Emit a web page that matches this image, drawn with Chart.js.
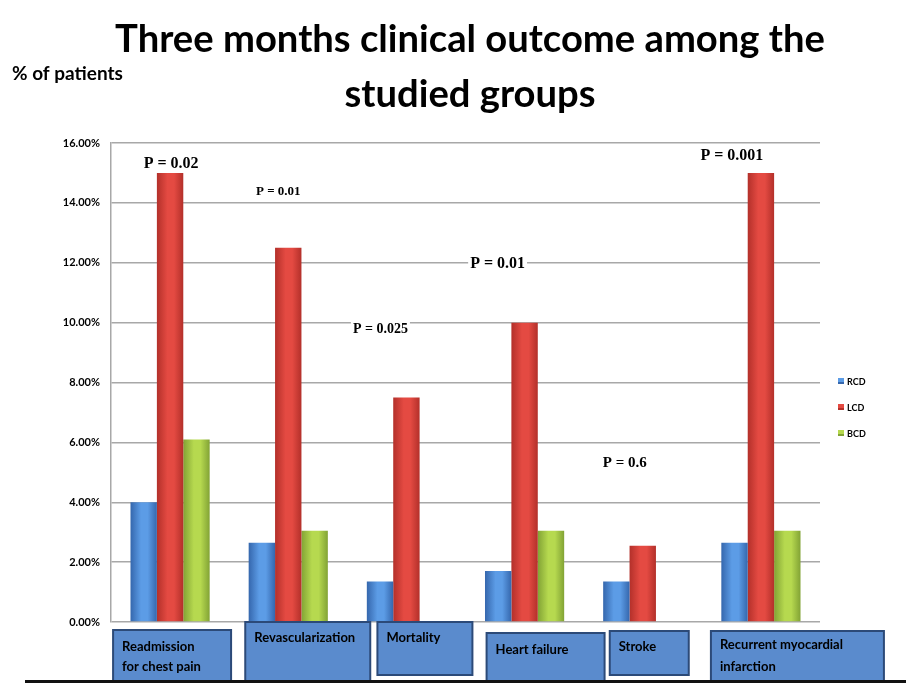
<!DOCTYPE html>
<html>
<head>
<meta charset="utf-8">
<script src="https://cdn.jsdelivr.net/npm/chart.js@4/dist/chart.umd.min.js"></script>
<style>
  html, body { margin: 0; padding: 0; background: #fff; }
  #wrap { width: 906px; height: 683px; position: relative; }
</style>
</head>
<body>
<div id="wrap"><canvas id="chart"></canvas></div>
<script>
// Three months clinical outcome - grouped bars
const categories = [
  ['Readmission', 'for chest pain'],
  ['Revascularization'],
  ['Mortality'],
  ['Heart failure'],
  ['Stroke'],
  ['Recurrent myocardial', 'infarction']
];
const seriesNames = ['RCD', 'LCD', 'BCD'];
const rcdValues = [4.0, 2.65, 1.35, 1.7, 1.35, 2.65];
const lcdValues = [15.0, 12.5, 7.5, 10.0, 2.55, 15.0];
const bcdValues = [6.1, 3.05, null, 3.05, null, 3.05];
const yMax = 16;
const yStep = 2;
const pValues = ['P = 0.02', 'P = 0.01', 'P = 0.025', 'P = 0.01', 'P = 0.6', 'P = 0.001'];

// placement of the annotation texts (y in % units, dx from category centre)
const pPlacement = [
  { dx: 1, y: 15.35, size: 16 },
  { dx: -10, y: 14.4, size: 13 },
  { dx: -26, y: 9.8, size: 14 },
  { dx: -27, y: 12.0, size: 16 },
  { dx: -18, y: 5.35, size: 15 },
  { dx: -29, y: 15.6, size: 16 }
];

// the blue label boxes under the axis (dx from category centre)
const boxPlacement = [
  { dx: -57, top: 630, w: 118, h: 70, ty: [647, 667] },
  { dx: -43, top: 622, w: 125, h: 70, ty: [638] },
  { dx: -29, top: 622, w: 95, h: 53, ty: [638] },
  { dx: -38, top: 633, w: 118, h: 70, ty: [650] },
  { dx: -33, top: 631, w: 79, h: 44, ty: [647] },
  { dx: -50, top: 631, w: 173, h: 70, ty: [645, 667] }
];

const palette = [
  { dark: '#3567ad', light: '#5c9ce6' },
  { dark: '#b3302a', light: '#e44a42' },
  { dark: '#82a335', light: '#b6d94f' }
];

const SANS = 'Lato, "Open Sans", sans-serif';
const SERIF = '"Liberation Serif", "DejaVu Serif", serif';

const barShading = {
  id: 'barShading',
  beforeDatasetsDraw(chart) {
    const c = chart.ctx;
    chart.data.datasets.forEach((ds, i) => {
      const meta = chart.getDatasetMeta(i);
      const col = palette[i];
      meta.data.forEach(el => {
        if (el.skip) return;
        const x0 = el.x - el.width / 2;
        const g = c.createLinearGradient(x0, 0, x0 + el.width, 0);
        g.addColorStop(0, col.dark);
        g.addColorStop(0.4, col.light);
        g.addColorStop(0.65, col.light);
        g.addColorStop(1, col.dark);
        el.options = Object.assign({}, el.options, { backgroundColor: g });
      });
    });
  }
};

const decorations = {
  id: 'decorations',
  afterDraw(chart) {
    const c = chart.ctx;
    const xs = chart.scales.x;
    const ys = chart.scales.y;
    c.save();

    // title, fitted to the original width
    const line1 = 'Three months clinical outcome among the';
    const line2 = 'studied groups';
    c.font = 'bold 34px ' + SANS;
    const w = c.measureText(line1).width;
    const size = 34 * 710 / w;
    c.font = 'bold ' + size.toFixed(1) + 'px ' + SANS;
    c.fillStyle = '#000';
    c.textAlign = 'center';
    c.textBaseline = 'middle';
    c.fillText(line1, 470, 40);
    c.fillText(line2, 470, 95);

    c.textAlign = 'left';
    c.font = 'bold 19px ' + SANS;
    c.fillText('% of patients', 12, 74);

    // p-value annotations
    pValues.forEach((txt, i) => {
      const p = pPlacement[i];
      const cx = xs.getPixelForValue(i) + p.dx;
      const cy = ys.getPixelForValue(p.y);
      c.font = 'bold ' + p.size + 'px ' + SERIF;
      const tw = c.measureText(txt).width;
      c.fillStyle = '#fff';
      c.fillRect(cx - tw / 2 - 2, cy - p.size / 2, tw + 4, p.size);
      c.fillStyle = '#000';
      c.textAlign = 'center';
      c.fillText(txt, cx, cy + 1);
    });

    // category label boxes
    categories.forEach((lines, i) => {
      const b = boxPlacement[i];
      const left = xs.getPixelForValue(i) + b.dx;
      c.fillStyle = '#5a8bcd';
      c.fillRect(left, b.top, b.w, b.h);
      c.strokeStyle = '#2c4a78';
      c.lineWidth = 2;
      c.strokeRect(left, b.top, b.w, b.h);
      c.fillStyle = '#000';
      c.font = 'bold 13px ' + SANS;
      c.textAlign = 'left';
      lines.forEach((t, k) => c.fillText(t, left + 9, b.ty[k]));
    });

    // bottom rule
    c.fillStyle = '#111';
    c.fillRect(25, 680, 881, 3);

    // legend
    const legendY = [381, 407, 433];
    seriesNames.forEach((name, i) => {
      c.fillStyle = palette[i].light;
      c.fillRect(838, legendY[i] - 3, 6, 6);
      c.fillStyle = palette[i].dark;
      c.fillRect(838, legendY[i] + 1, 6, 2);
      c.fillStyle = '#000';
      c.font = 'bold 9px ' + SANS;
      c.textAlign = 'left';
      c.fillText(name, 847, legendY[i] + 1);
    });

    c.restore();
  }
};

new Chart(document.getElementById('chart'), {
  type: 'bar',
  data: {
    labels: categories,
    datasets: [
      { label: seriesNames[0], data: rcdValues, backgroundColor: palette[0].light },
      { label: seriesNames[1], data: lcdValues, backgroundColor: palette[1].light },
      { label: seriesNames[2], data: bcdValues, backgroundColor: palette[2].light }
    ]
  },
  options: {
    responsive: true,
    maintainAspectRatio: false,
    animation: false,
    layout: { padding: { top: 143, bottom: 61, left: 0, right: 86 } },
    datasets: {
      bar: { categoryPercentage: 0.67, barPercentage: 1.0, borderWidth: 0 }
    },
    plugins: {
      legend: { display: false },
      title: { display: false },
      tooltip: { enabled: false }
    },
    scales: {
      x: { display: false },
      y: {
        min: 0,
        max: yMax,
        afterFit(scale) { scale.width = 111; },
        ticks: {
          stepSize: yStep,
          padding: 11,
          color: '#000',
          font: { family: SANS, weight: 'bold', size: 11 },
          callback: v => v.toFixed(2) + '%'
        },
        grid: { color: '#a8a8a8', lineWidth: 1.5, drawTicks: false },
        border: { display: true, color: '#a8a8a8', width: 1.5 }
      }
    }
  },
  plugins: [barShading, decorations]
});
</script>
</body>
</html>
